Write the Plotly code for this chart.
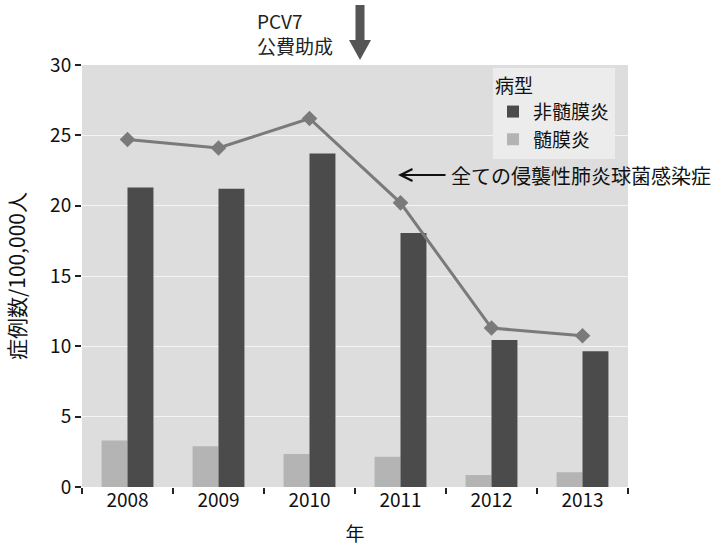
import plotly.graph_objects as go

# Invasive pneumococcal disease incidence per 100,000, by year
years = ["2008", "2009", "2010", "2011", "2012", "2013"]
meningitis = [3.3, 2.9, 2.35, 2.15, 0.85, 1.05]          # 髄膜炎
non_meningitis = [21.3, 21.2, 23.7, 18.05, 10.45, 9.65]  # 非髄膜炎
total_ipd = [24.7, 24.1, 26.2, 20.2, 11.3, 10.75]         # 全ての侵襲性肺炎球菌感染症

FONT = "Noto Sans CJK JP"
W, H = 718, 549
M = dict(l=82, r=90, t=65, b=62)
PW = W - M["l"] - M["r"]
PH = H - M["t"] - M["b"]


def px_to_paper(x, y):
    """Convert page pixel position to paper coordinates."""
    return (x - M["l"]) / PW, (H - M["b"] - y) / PH


fig = go.Figure()
fig.add_trace(go.Bar(
    x=years, y=meningitis, name="髄膜炎",
    marker=dict(color="#b4b4b4", line=dict(width=0)),
))
fig.add_trace(go.Bar(
    x=years, y=non_meningitis, name="非髄膜炎",
    marker=dict(color="#4b4b4b", line=dict(width=0)),
))
fig.add_trace(go.Scatter(
    x=years, y=total_ipd, mode="lines+markers", showlegend=False,
    line=dict(color="#7a7a7a", width=3),
    marker=dict(symbol="diamond", size=12, color="#7a7a7a"),
))

# PCV7 subsidy label and its thick downward arrow
ax0, ay0 = px_to_paper(255, 33)
fig.add_annotation(
    x=ax0, y=ay0, xref="paper", yref="paper", xanchor="left", yanchor="middle",
    text="PCV7<br>公費助成", align="left", showarrow=False,
    font=dict(family=FONT, size=19, color="#222"),
)
cx = 360
pts = [(cx - 4.5, 5), (cx + 4.5, 5), (cx + 4.5, 40), (cx + 11, 40),
       (cx, 60), (cx - 11, 40), (cx - 4.5, 40)]
path = "M " + " L ".join(f"{px_to_paper(x, y)[0]:.4f},{px_to_paper(x, y)[1]:.4f}" for x, y in pts) + " Z"
fig.add_shape(type="path", path=path, xref="paper", yref="paper",
              fillcolor="#555555", line=dict(width=0))

# Label for the total line
tx, ty = px_to_paper(449, 175)
fig.add_annotation(
    x=tx, y=ty, xref="paper", yref="paper", xanchor="left", yanchor="middle",
    text="全ての侵襲性肺炎球菌感染症", showarrow=False,
    font=dict(family=FONT, size=20, color="#111"),
)
hx, hy = px_to_paper(398, 175)
fig.add_annotation(
    x=hx, y=hy, xref="paper", yref="paper", text="", showarrow=True,
    ax=49, ay=0, arrowhead=5, arrowsize=1.3, arrowwidth=1.8, arrowcolor="#111",
)

lx, ly = px_to_paper(493, 68)
fig.update_layout(
    width=W, height=H, margin=M,
    paper_bgcolor="white", plot_bgcolor="#dddddd",
    barmode="group", bargap=0.43, bargroupgap=0,
    font=dict(family=FONT, size=19, color="#111"),
    legend=dict(
        x=lx, y=ly, xanchor="left", yanchor="top",
        title=dict(text="病型", font=dict(family=FONT, size=19)),
        traceorder="reversed", bgcolor="#ececec",
        font=dict(family=FONT, size=19), itemsizing="constant",
        tracegroupgap=0,
    ),
    xaxis=dict(
        type="category", tickson="boundaries", ticks="outside", ticklen=6,
        tickcolor="#222", tickwidth=1.5, showgrid=False, showline=False,
        automargin=False,
        title=dict(text="年", standoff=16, font=dict(size=19)),
        tickfont=dict(size=19),
    ),
    yaxis=dict(
        range=[0, 30], dtick=5, ticks="outside", ticklen=6, tickcolor="#222",
        tickwidth=1.5, showgrid=True, gridcolor="#f4f4f4", gridwidth=1,
        zeroline=False, showline=False, automargin=False,
        title=dict(text="症例数/100,000人", standoff=18, font=dict(size=21)),
        tickfont=dict(size=19),
    ),
)

fig.write_html("out.html")
